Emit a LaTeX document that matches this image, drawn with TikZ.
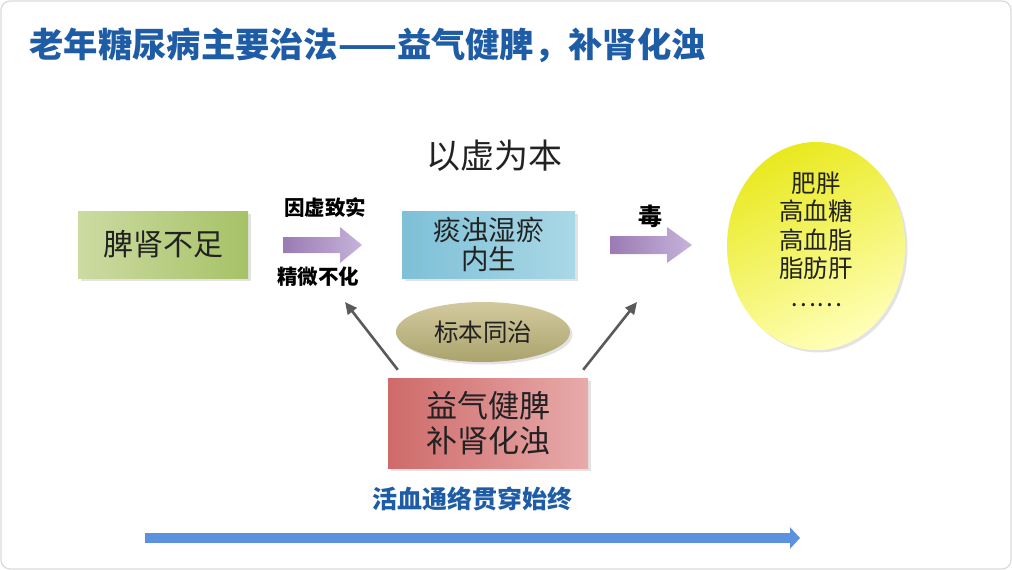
\documentclass[tikz,border=0pt]{standalone}
\usepackage{fontspec}
\setmainfont{Noto Sans CJK SC}
\usetikzlibrary{arrows.meta,shadows,shapes.geometric}
\definecolor{titleblue}{HTML}{1F5CA6}
\definecolor{greenL}{HTML}{CCDBA2}
\definecolor{greenR}{HTML}{A6C266}
\definecolor{blueL}{HTML}{7EC0D7}
\definecolor{blueR}{HTML}{A9D8E6}
\definecolor{redL}{HTML}{CF6A6A}
\definecolor{redR}{HTML}{E8AAAA}
\definecolor{oliveT}{HTML}{D2CA9E}
\definecolor{oliveB}{HTML}{ABA36C}
\definecolor{yelA}{HTML}{E9E920}
\definecolor{yelB}{HTML}{FFFFB8}
\definecolor{purL}{HTML}{9A7BB3}
\definecolor{purR}{HTML}{C6B3DA}
\definecolor{grayarrow}{HTML}{5A5A5A}
\definecolor{linkblue}{HTML}{5B91DE}
\definecolor{txt}{HTML}{222222}
\definecolor{frame}{HTML}{DADADA}
\tikzset{
  shadowed/.style={drop shadow={opacity=0.22,shadow xshift=2.5pt,shadow yshift=-2.5pt}},
  box/.style={draw=none,inner sep=0pt,align=center,text=txt,shadowed},
  blockarrow/.style={left color=purL,right color=purR,draw=none},
  upline/.style={draw=grayarrow,line width=2.6pt,-{Triangle[length=12pt,width=11pt]}},
  lbl/.style={font=\fontsize{20.5}{23}\selectfont\bfseries,text=black},
}
\begin{document}
\begin{tikzpicture}[x=1pt,y=-1pt]
\useasboundingbox (0,0) rectangle (1012,570);
\draw[frame,line width=1.2pt,rounded corners=9pt] (1,1) rectangle (1011,569);

\node[anchor=west,text=titleblue,font=\fontsize{34.3}{38}\selectfont\bfseries] (title) at (26,45) {老年糖尿病主要治法——益气健脾，补肾化浊};

\node[box,minimum width=170pt,minimum height=67pt,left color=greenL,right color=greenR,font=\fontsize{30}{34}\selectfont] (pi) at (163,244.5) {脾肾不足};

\node[box,minimum width=173pt,minimum height=67pt,left color=blueL,right color=blueR,font=\fontsize{27.5}{29}\selectfont] (tan) at (488.5,244.5) {痰浊湿瘀\\内生};

\node[text=txt,font=\fontsize{34}{38}\selectfont] (xu) at (494,156) {以虚为本};

\node[box,ellipse,minimum width=178pt,minimum height=208pt,top color=yelA,bottom color=yelB,shading angle=25] (ell) at (816,246) {};
\node[align=center,text=txt,font=\fontsize{24.5}{28.5}\selectfont] (elltext) at ([yshift=7pt]ell.center) {肥胖\\高血糖\\高血脂\\脂肪肝\\……};

\node[box,ellipse,minimum width=174pt,minimum height=60pt,top color=oliveT,bottom color=oliveB,font=\fontsize{24.5}{28}\selectfont] (bz) at (483,332) {标本同治};

\node[box,minimum width=200pt,minimum height=90pt,left color=redL,right color=redR,font=\fontsize{31}{35}\selectfont] (yq) at (488,423) {益气健脾\\补肾化浊};

% block arrows
\path[blockarrow] (283,237) -- (340,237) -- (340,227) -- (362,245) -- (340,263) -- (340,253) -- (283,253) -- cycle;
\node[lbl] (yin) at (325,208) {因虚致实};
\node[lbl] (jing) at (318,277) {精微不化};

\path[blockarrow] (610,236) -- (667,236) -- (667,227) -- (692,245) -- (667,263) -- (667,254) -- (610,254) -- cycle;
\node[font=\fontsize{24}{26}\selectfont\bfseries,text=black] (du) at (650,216) {毒};

% upward arrows
\coordinate (lh) at (345,302);
\coordinate (rh) at (637,302);
\draw[upline] ([shift={(10,-8)}]yq.north west) -- (lh);
\draw[upline] ([shift={(-5,-8)}]yq.north east) -- (rh);

\node[text=titleblue,font=\fontsize{25}{28}\selectfont\bfseries] (hx) at (472,499) {活血通络贯穿始终};

\coordinate (bs) at (145,538);
\coordinate (be) at (800,538);
\draw[linkblue,line width=10pt,-{Triangle[length=10pt,width=21pt]}] (bs) -- (be);
\end{tikzpicture}
\end{document}
